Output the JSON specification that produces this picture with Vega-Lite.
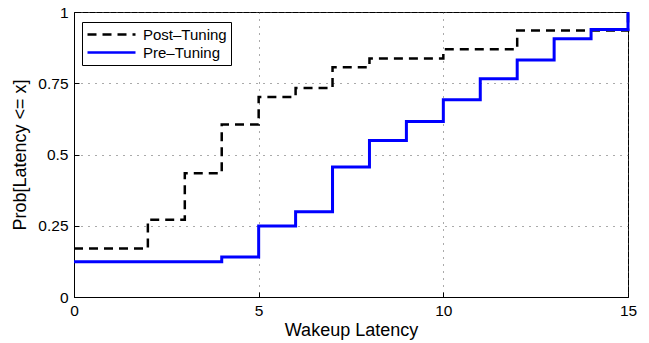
{
  "$schema": "https://vega.github.io/schema/vega-lite/v6.json",
  "autosize": {"type": "none"},
  "padding": {"left": 74, "top": 12, "right": 21, "bottom": 46},
  "width": 554,
  "height": 285,
  "background": "white",
  "config": {
    "font": "Liberation Sans",
    "view": {"stroke": "black", "strokeWidth": 1},
    "axis": {
      "domainColor": "black",
      "tickColor": "black",
      "labelColor": "black",
      "titleColor": "black",
      "labelFont": "Liberation Sans",
      "titleFont": "Liberation Sans",
      "labelFontSize": 15.5,
      "titleFontSize": 18,
      "titleFontWeight": "normal",
      "gridColor": "#555555",
      "gridDash": [1, 6],
      "gridOpacity": 1,
      "gridWidth": 1,
      "tickSize": -5
    }
  },
  "data": {
    "values": [
      {"series": "Post\u2013Tuning", "x": 0, "p": 0.17},
      {"series": "Post\u2013Tuning", "x": 2, "p": 0.271},
      {"series": "Post\u2013Tuning", "x": 3, "p": 0.434},
      {"series": "Post\u2013Tuning", "x": 4, "p": 0.605},
      {"series": "Post\u2013Tuning", "x": 5, "p": 0.702},
      {"series": "Post\u2013Tuning", "x": 6, "p": 0.733},
      {"series": "Post\u2013Tuning", "x": 7, "p": 0.806},
      {"series": "Post\u2013Tuning", "x": 8, "p": 0.837},
      {"series": "Post\u2013Tuning", "x": 10, "p": 0.869},
      {"series": "Post\u2013Tuning", "x": 12, "p": 0.935},
      {"series": "Post\u2013Tuning", "x": 15, "p": 1.0},
      {"series": "Pre\u2013Tuning", "x": 0, "p": 0.124},
      {"series": "Pre\u2013Tuning", "x": 4, "p": 0.14},
      {"series": "Pre\u2013Tuning", "x": 5, "p": 0.249},
      {"series": "Pre\u2013Tuning", "x": 6, "p": 0.299},
      {"series": "Pre\u2013Tuning", "x": 7, "p": 0.456},
      {"series": "Pre\u2013Tuning", "x": 8, "p": 0.549},
      {"series": "Pre\u2013Tuning", "x": 9, "p": 0.616},
      {"series": "Pre\u2013Tuning", "x": 10, "p": 0.692},
      {"series": "Pre\u2013Tuning", "x": 11, "p": 0.766},
      {"series": "Pre\u2013Tuning", "x": 12, "p": 0.832},
      {"series": "Pre\u2013Tuning", "x": 13, "p": 0.906},
      {"series": "Pre\u2013Tuning", "x": 14, "p": 0.939},
      {"series": "Pre\u2013Tuning", "x": 15, "p": 1.0}
    ]
  },
  "encoding": {
    "x": {
      "field": "x", "type": "quantitative",
      "scale": {"domain": [0, 15], "nice": false, "zero": false},
      "axis": {"title": "Wakeup Latency", "values": [0, 5, 10, 15], "grid": true, "labelPadding": 11, "titlePadding": 3, "labelFlush": false}
    },
    "y": {
      "field": "p", "type": "quantitative",
      "scale": {"domain": [0, 1], "nice": false},
      "axis": {"title": "Prob[Latency <= x]", "values": [0, 0.25, 0.5, 0.75, 1], "format": ".2~f", "grid": true, "labelPadding": 11, "titlePadding": 8, "labelFlush": false}
    },
    "color": {
      "field": "series", "type": "nominal",
      "scale": {"domain": ["Post\u2013Tuning", "Pre\u2013Tuning"], "range": ["black", "#0000ff"]},
      "legend": {
        "title": null,
        "orient": "none",
        "legendX": 8,
        "legendY": 10,
        "strokeColor": "black",
        "fillColor": "white",
        "padding": 4,
        "cornerRadius": 0,
        "symbolType": "stroke",
        "symbolSize": 2304,
        "symbolStrokeWidth": 2.5,
        "clipHeight": 17,
        "labelFontSize": 15,
        "labelFont": "Liberation Sans",
        "labelColor": "black",
        "labelOffset": 6,
        "rowPadding": 1
      }
    },
    "strokeDash": {
      "field": "series", "type": "nominal",
      "scale": {"domain": ["Post\u2013Tuning", "Pre\u2013Tuning"], "range": [[9, 6], [1, 0]]},
      "legend": {
        "title": null,
        "orient": "none",
        "legendX": 8,
        "legendY": 10,
        "strokeColor": "black",
        "fillColor": "white",
        "padding": 4,
        "cornerRadius": 0,
        "symbolType": "stroke",
        "symbolSize": 2304,
        "symbolStrokeWidth": 2.5,
        "clipHeight": 17,
        "labelFontSize": 15,
        "labelFont": "Liberation Sans",
        "labelColor": "black",
        "labelOffset": 6,
        "rowPadding": 1
      }
    }
  },
  "layer": [
    {
      "transform": [{"filter": "datum.series === 'Post\u2013Tuning'"}],
      "mark": {"type": "line", "interpolate": "step-after", "strokeWidth": 2.5, "clip": false}
    },
    {
      "transform": [{"filter": "datum.series === 'Pre\u2013Tuning'"}],
      "mark": {"type": "line", "interpolate": "step-after", "strokeWidth": 3, "clip": false}
    }
  ]
}
